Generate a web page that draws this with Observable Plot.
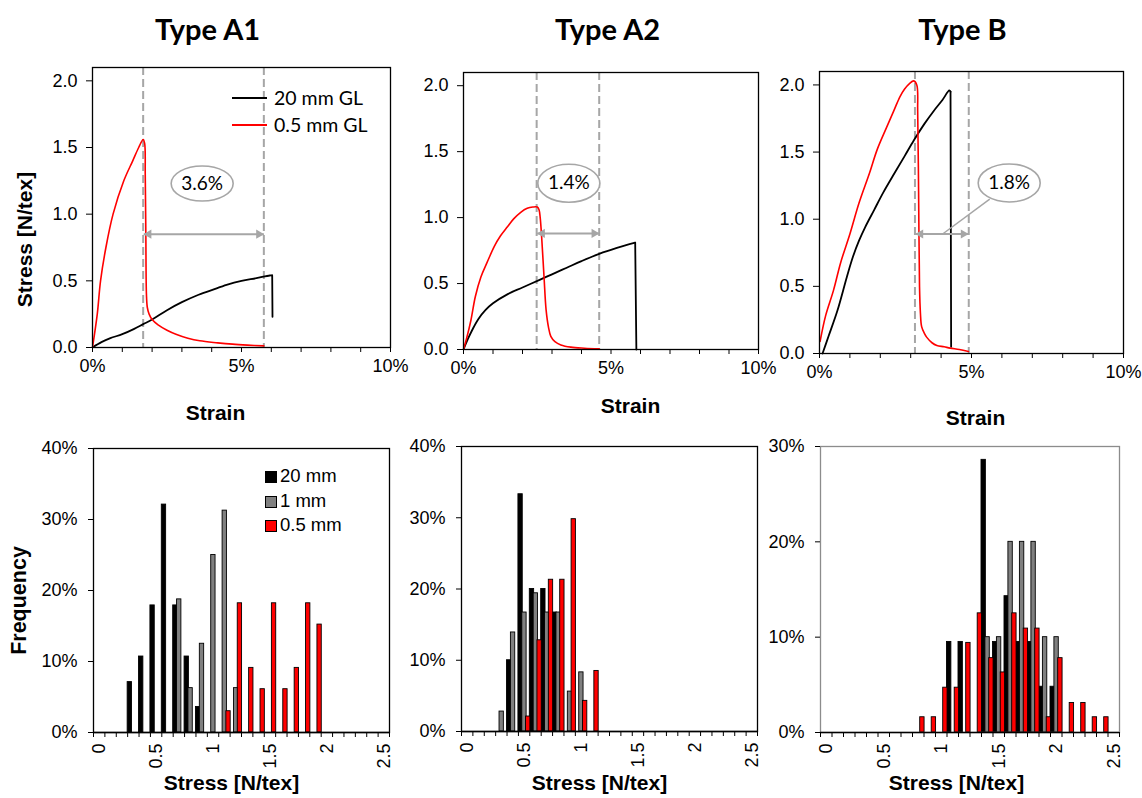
<!DOCTYPE html>
<html>
<head>
<meta charset="utf-8">
<script src="https://cdn.jsdelivr.net/npm/d3@7"></script>
<script src="https://cdn.jsdelivr.net/npm/@observablehq/plot@0.6"></script>
<style>
html,body{margin:0;padding:0;background:#fff;overflow:hidden;}
#chart{position:relative;width:1142px;height:798px;}
#chart svg{position:absolute;left:0;top:0;overflow:visible;}
.leg{position:absolute;white-space:nowrap;color:#000;}
</style>
</head>
<body>
<div id="chart"></div>
<script>
// ---------------- DATA ----------------
const panelTitles = ["Type A1", "Type A2", "Type B"];
const topLegend = ["20 mm GL", "0.5 mm GL"];
const bottomLegend = ["20 mm", "1 mm", "0.5 mm"];
const strainTicks = [0, 5, 10];
const stressTicks = [0, 0.5, 1, 1.5, 2];

// Type A1 stress-strain (strain in %, stress in N/tex)
const a1Strain20 = [0, 0.3, 0.6, 1.0, 1.4, 1.7, 2.0, 2.5, 3.0, 3.5, 4.0, 4.5, 5.0, 5.5, 5.95, 6.03, 6.04];
const a1Stress20 = [0, 0.04, 0.07, 0.10, 0.14, 0.175, 0.21, 0.28, 0.34, 0.39, 0.43, 0.47, 0.50, 0.52, 0.54, 0.54, 0.23];
const a1Strain05 = [0, 0.16, 0.27, 0.45, 0.69, 1.05, 1.35, 1.55, 1.70, 1.75, 1.77, 1.79, 1.81, 1.84, 1.9, 2.0, 2.2, 2.5, 2.8, 3.2, 3.6, 4.2, 4.7, 5.2, 5.75];
const a1Stress05 = [0, 0.25, 0.5, 0.75, 1.0, 1.25, 1.4, 1.5, 1.56, 1.53, 1.3, 0.85, 0.4, 0.3, 0.25, 0.21, 0.17, 0.13, 0.1, 0.07, 0.05, 0.035, 0.025, 0.018, 0.012];

// Type A2
const a2Strain20 = [0, 0.15, 0.3, 0.5, 0.75, 1.0, 1.5, 2.0, 2.6, 3.0, 3.5, 4.0, 4.6, 5.2, 5.82, 5.86];
const a2Stress20 = [0, 0.08, 0.15, 0.23, 0.30, 0.35, 0.42, 0.47, 0.53, 0.57, 0.62, 0.67, 0.725, 0.77, 0.81, 0.0];
const a2Strain05 = [0, 0.1, 0.25, 0.4, 0.59, 0.8, 1.04, 1.25, 1.49, 1.7, 1.94, 2.16, 2.35, 2.5, 2.56, 2.6, 2.65, 2.73, 2.8, 2.88, 2.96, 3.1, 3.3, 3.64, 4.1, 4.6];
const a2Stress05 = [0, 0.08, 0.22, 0.4, 0.55, 0.66, 0.78, 0.86, 0.93, 0.99, 1.04, 1.07, 1.08, 1.08, 1.06, 1.0, 0.85, 0.55, 0.3, 0.17, 0.1, 0.06, 0.035, 0.018, 0.01, 0.005];

// Type B
const bStrain20 = [0.1, 0.3, 0.59, 0.9, 1.1, 1.3, 1.5, 1.8, 2.1, 2.46, 2.8, 3.11, 3.45, 3.77, 4.05, 4.27, 4.31, 4.33];
const bStress20 = [0, 0.13, 0.32, 0.57, 0.72, 0.84, 0.94, 1.07, 1.2, 1.34, 1.47, 1.59, 1.71, 1.81, 1.89, 1.96, 1.95, 0.05];
const bStrain05 = [0.02, 0.2, 0.46, 0.7, 1.0, 1.3, 1.64, 1.9, 2.2, 2.45, 2.64, 2.8, 2.96, 3.1, 3.2, 3.23, 3.26, 3.29, 3.32, 3.36, 3.45, 3.53, 3.7, 3.86, 4.1, 4.3, 4.6, 4.9];
const bStress05 = [0.09, 0.28, 0.47, 0.68, 0.89, 1.12, 1.34, 1.52, 1.68, 1.81, 1.91, 1.97, 2.01, 2.03, 2.0, 1.8, 1.2, 0.5, 0.3, 0.2, 0.15, 0.12, 0.08, 0.06, 0.05, 0.04, 0.03, 0.015];

// Annotations: dashed strain markers, arrow [from, to, stress], gap label [strain, stress, text]
const a1Dashes = [1.7, 5.75];  const a1Arrow = [1.72, 5.75, 0.85]; const a1Gap = [3.68, 1.23, "3.6%"];
const a2Dashes = [2.48, 4.6];  const a2Arrow = [2.5, 4.6, 0.88];   const a2Gap = [3.57, 1.26, "1.4%"];
const bDashes  = [3.14, 4.91]; const bArrow  = [3.16, 4.9, 0.89];  const bGap  = [6.24, 1.27, "1.8%"];
const bCallout = [5.6, 1.15, 4.05, 0.89];

// Histograms: stress bins (N/tex) and frequencies (%)
const stressBins = [0, 0.1, 0.2, 0.3, 0.4, 0.5, 0.6, 0.7, 0.8, 0.9, 1.0, 1.1, 1.2, 1.3, 1.4, 1.5, 1.6, 1.7, 1.8, 1.9, 2.0, 2.1, 2.2, 2.3, 2.4, 2.5];
const stressLabels = [0, 0.5, 1, 1.5, 2, 2.5];

const h1Bins20 = [0.3, 0.4, 0.5, 0.6, 0.7, 0.8, 0.9];
const h1Freq20 = [7.1, 10.7, 17.9, 32.1, 17.9, 10.7, 3.6];
const h1Bins1  = [0.7, 0.8, 0.9, 1.0, 1.1, 1.2];
const h1Freq1  = [18.75, 6.25, 12.5, 25, 31.25, 6.25];
const h1Bins05 = [1.1, 1.2, 1.3, 1.4, 1.5, 1.6, 1.7, 1.8, 1.9];
const h1Freq05 = [3.0, 18.2, 9.1, 6.1, 18.2, 6.1, 9.1, 18.2, 15.2];

const h2Bins20 = [0.4, 0.5, 0.6, 0.7, 0.8];
const h2Freq20 = [10, 33.3, 20, 20, 16.7];
const h2Bins1  = [0.3, 0.4, 0.5, 0.6, 0.7, 0.8, 0.9, 1.0];
const h2Freq1  = [2.8, 13.9, 16.7, 19.4, 16.7, 16.7, 5.6, 8.3];
const h2Bins05 = [0.5, 0.6, 0.7, 0.8, 0.9, 1.0, 1.1];
const h2Freq05 = [2.1, 12.8, 21.3, 21.3, 29.8, 4.3, 8.5];

const h3Bins20 = [1.1, 1.2, 1.4, 1.5, 1.6, 1.7, 1.8, 1.9, 2.0];
const h3Freq20 = [9.5, 9.5, 28.6, 9.5, 14.3, 9.5, 9.5, 4.8, 4.8];
const h3Bins1  = [1.4, 1.5, 1.6, 1.7, 1.8, 1.9, 2.0];
const h3Freq1  = [10, 10, 20, 20, 20, 10, 10];
const h3Bins05 = [0.8, 0.9, 1.0, 1.1, 1.2, 1.3, 1.4, 1.5, 1.6, 1.7, 1.8, 1.9, 2.0, 2.1, 2.2, 2.3, 2.4];
const h3Freq05 = [1.6, 1.6, 4.7, 4.7, 9.4, 12.5, 7.8, 6.3, 12.5, 10.9, 10.9, 1.6, 7.8, 3.1, 3.1, 1.6, 1.6];

// ---------------- DRAWING ----------------
const W = 1142, H = 798;
const GRAY = "#a6a6a6";
const SANS = "'Liberation Sans', Arial, sans-serif";
const CAL = "Lato, 'Liberation Sans', sans-serif";
const chart = document.getElementById("chart");

const pairs = (xs, ys) => xs.map((x, i) => ({x, y: ys[i]}));
const box = (l, r, t, b) => ({marginLeft: l, marginRight: W - r, marginTop: t, marginBottom: H - b});
const ellipse = (rx, ry) => ({
  draw(ctx) {
    const k = 0.5523;
    ctx.moveTo(rx, 0);
    ctx.bezierCurveTo(rx, ry * k, rx * k, ry, 0, ry);
    ctx.bezierCurveTo(-rx * k, ry, -rx, ry * k, -rx, 0);
    ctx.bezierCurveTo(-rx, -ry * k, -rx * k, -ry, 0, -ry);
    ctx.bezierCurveTo(rx * k, -ry, rx, -ry * k, rx, 0);
    ctx.closePath();
  }
});

function topPanel(cfg) {
  const [ax1, ax2, ay] = cfg.arrow;
  const [gx, gy, gt] = cfg.gap;
  const black = pairs(cfg.s20, cfg.t20);
  const marks = [
    Plot.ruleX(cfg.dashes, {x: d => d, stroke: GRAY, strokeWidth: 2, strokeDasharray: "8,4"}),
    // rising part (smooth) and final break (straight drop) of the 20 mm curve
    Plot.line(black.slice(0, -1), {x: "x", y: "y", stroke: "#000", strokeWidth: 1.8, curve: "catmull-rom"}),
    Plot.line(black.slice(-2), {x: "x", y: "y", stroke: "#000", strokeWidth: 1.8}),
    Plot.line(pairs(cfg.s05, cfg.t05), {x: "x", y: "y", stroke: "#ff0000", strokeWidth: 1.6, curve: "catmull-rom"}),
    Plot.link([cfg.arrow], {x1: () => ax1, x2: () => ax2, y1: () => ay, y2: () => ay, stroke: GRAY, strokeWidth: 2}),
    Plot.dot([cfg.arrow], {x: () => ax1, y: () => ay, symbol: "triangle", r: 3.4, rotate: -90, dx: 5, fill: GRAY, stroke: "none"}),
    Plot.dot([cfg.arrow], {x: () => ax2, y: () => ay, symbol: "triangle", r: 3.4, rotate: 90, dx: -5, fill: GRAY, stroke: "none"})
  ];
  if (cfg.callout) {
    const [c1, c2, c3, c4] = cfg.callout;
    marks.push(Plot.link([cfg.callout], {x1: () => c1, y1: () => c2, x2: () => c3, y2: () => c4, stroke: GRAY, strokeWidth: 1.5}));
  }
  marks.push(
    Plot.dot([cfg.gap], {x: () => gx, y: () => gy, symbol: ellipse(31, cfg.ry), fill: "white", stroke: GRAY, strokeWidth: 1.6}),
    Plot.text([gt], {x: () => gx, y: () => gy, text: d => d, fontFamily: CAL, fontSize: 19, fill: "#000"}),
    Plot.frame({stroke: "#000", strokeWidth: 1.3}),
    Plot.axisY({ticks: stressTicks, tickSize: 6, tickPadding: 9, tickFormat: d3.format(".1f"), fontSize: 18, label: null}),
    Plot.axisX({ticks: d3.range(0, 11), tickSize: 5, fill: "none", label: null}),
    Plot.axisX({ticks: strainTicks, tickSize: 0, tickPadding: 12, tickFormat: d => d + "%", fontSize: 18, label: null}),
    Plot.text([cfg.title], {frameAnchor: "top", text: d => d, dx: cfg.titleD[0], dy: cfg.titleD[1], lineAnchor: "middle", textAnchor: "middle", fontFamily: CAL, fontWeight: "bold", fontSize: 29}),
    Plot.text(["Strain"], {frameAnchor: "bottom", text: d => d, dx: cfg.strainD[0], dy: cfg.strainD[1], lineAnchor: "middle", textAnchor: "middle", fontWeight: "bold", fontSize: 21})
  );
  if (cfg.yLabel) {
    marks.push(Plot.text(["Stress [N/tex]"], {frameAnchor: "left", text: d => d, rotate: -90, dx: -67, dy: 32, textAnchor: "middle", lineAnchor: "middle", fontWeight: "bold", fontSize: 21}));
  }
  const svg = Plot.plot({
    width: W, height: H, ...cfg.box,
    style: {background: "transparent", overflow: "visible", fontFamily: SANS, color: "#000"},
    x: {domain: [0, 10]},
    y: {domain: [0, 2.1]},
    marks
  });
  chart.appendChild(svg);
}

const seriesStyle = [
  {fill: "#000000", off: [-0.5, -0.12]},
  {fill: "#808080", off: [-0.16, 0.22]},
  {fill: "#ff0000", off: [0.17, 0.55]}
];
const BIN = 0.1;
function bars(bins, freq, si) {
  const s = seriesStyle[si];
  return Plot.rectY(bins.map((b, i) => ({b, f: freq[i]})), {
    x1: d => d.b + s.off[0] * BIN, x2: d => d.b + s.off[1] * BIN,
    y1: 0, y2: "f", fill: s.fill, stroke: "#000", strokeWidth: 0.9
  });
}

function bottomPanel(cfg) {
  const edges = stressBins.map(c => c - BIN / 2).concat([stressBins[stressBins.length - 1] + BIN / 2]);
  const marks = [
    bars(cfg.series[0][0], cfg.series[0][1], 0),
    bars(cfg.series[1][0], cfg.series[1][1], 1),
    bars(cfg.series[2][0], cfg.series[2][1], 2),
    Plot.frame({stroke: cfg.frameColor, strokeWidth: 1.3}),
    Plot.ruleY([0], {stroke: "#000", strokeWidth: 1.3}),
    Plot.axisY({ticks: cfg.yTicks, tickSize: 5, tickPadding: 11, tickFormat: d => d + "%", fontSize: 18, label: null}),
    Plot.axisX({ticks: edges, tickSize: 5, fill: "none", label: null}),
    Plot.axisX({ticks: stressLabels, tickSize: 0, tickPadding: 11, tickRotate: -90, tickFormat: d => String(d), fontSize: 18, label: null}),
    Plot.text(["Stress [N/tex]"], {frameAnchor: "bottom", text: d => d, dx: cfg.xlabD[0], dy: cfg.xlabD[1], lineAnchor: "middle", textAnchor: "middle", fontWeight: "bold", fontSize: 21})
  ];
  if (cfg.yLabel) {
    marks.push(Plot.text(["Frequency"], {frameAnchor: "left", text: d => d, rotate: -90, dx: -74, dy: 10, textAnchor: "middle", lineAnchor: "middle", fontWeight: "bold", fontSize: 21.5}));
  }
  const svg = Plot.plot({
    width: W, height: H, ...cfg.box,
    style: {background: "transparent", overflow: "visible", fontFamily: SANS, color: "#000"},
    x: {domain: [-0.05, 2.55]},
    y: {domain: [0, cfg.yMax]},
    marks
  });
  chart.appendChild(svg);
}

topPanel({box: box(92, 390, 67, 347), title: panelTitles[0], titleD: [-34, -37], strainD: [-26, 66], yLabel: true,
  s20: a1Strain20, t20: a1Stress20, s05: a1Strain05, t05: a1Stress05, dashes: a1Dashes, arrow: a1Arrow, gap: a1Gap, ry: 17.5});
topPanel({box: box(463, 758, 72, 349), title: panelTitles[1], titleD: [-3.5, -42], strainD: [19.5, 57],
  s20: a2Strain20, t20: a2Stress20, s05: a2Strain05, t05: a2Stress05, dashes: a2Dashes, arrow: a2Arrow, gap: a2Gap, ry: 19});
topPanel({box: box(819, 1123, 71, 353), title: panelTitles[2], titleD: [-9, -41], strainD: [4, 65],
  s20: bStrain20, t20: bStress20, s05: bStrain05, t05: bStress05, dashes: bDashes, arrow: bArrow, gap: bGap, ry: 19, callout: bCallout});

bottomPanel({box: box(93, 389, 448, 732), yMax: 40, yTicks: [0, 10, 20, 30, 40], frameColor: "#000", yLabel: true, xlabD: [-10, 51],
  series: [[h1Bins20, h1Freq20], [h1Bins1, h1Freq1], [h1Bins05, h1Freq05]]});
bottomPanel({box: box(461, 757, 446, 731), yMax: 40, yTicks: [0, 10, 20, 30, 40], frameColor: "#000", xlabD: [-10, 52],
  series: [[h2Bins20, h2Freq20], [h2Bins1, h2Freq1], [h2Bins05, h2Freq05]]});
bottomPanel({box: box(820, 1119, 446, 732), yMax: 30, yTicks: [0, 10, 20, 30], frameColor: "#8c8c8c", xlabD: [-13.5, 51],
  series: [[h3Bins20, h3Freq20], [h3Bins1, h3Freq1], [h3Bins05, h3Freq05]]});

// ---------------- LEGENDS ----------------
const topLegColors = ["#000000", "#ff0000"];
const topLegY = [98, 125];
topLegend.forEach((t, i) => {
  const line = document.createElement("div");
  line.className = "leg";
  line.style.cssText = `left:232px;top:${topLegY[i] - 1}px;width:35px;height:2px;background:${topLegColors[i]};`;
  chart.appendChild(line);
  const txt = document.createElement("div");
  txt.className = "leg";
  txt.style.cssText = `left:274px;top:${topLegY[i] - 12}px;height:24px;line-height:24px;font:19.5px ${CAL};`;
  txt.textContent = t;
  chart.appendChild(txt);
});
const botLegY = [477, 502, 526];
bottomLegend.forEach((t, i) => {
  const sq = document.createElement("div");
  sq.className = "leg";
  sq.style.cssText = `left:265px;top:${botLegY[i] - 6}px;width:10px;height:10px;border:1px solid #000;background:${seriesStyle[i].fill};`;
  chart.appendChild(sq);
  const txt = document.createElement("div");
  txt.className = "leg";
  txt.style.cssText = `left:280px;top:${botLegY[i] - 12}px;height:24px;line-height:24px;font:18.5px ${SANS};`;
  txt.textContent = t;
  chart.appendChild(txt);
});
</script>
</body>
</html>
